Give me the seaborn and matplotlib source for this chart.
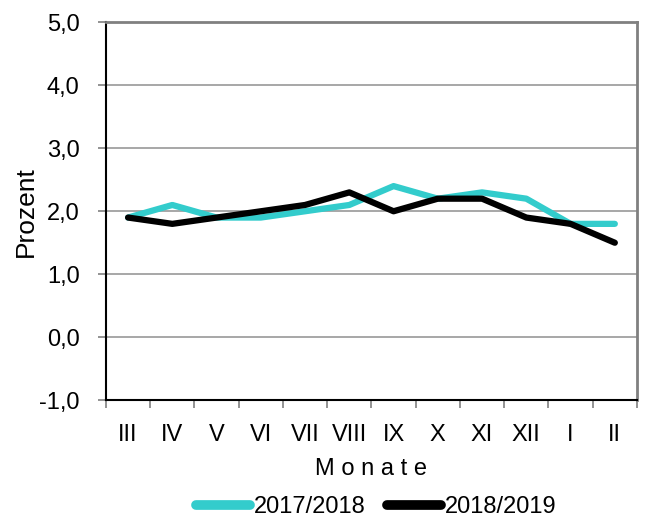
import matplotlib
matplotlib.use("Agg")
import matplotlib.pyplot as plt
import seaborn as sns
import pandas as pd
import numpy as np
from matplotlib.ticker import FixedLocator, FuncFormatter
from matplotlib import font_manager

months = ["III", "IV", "V", "VI", "VII", "VIII", "IX", "X", "XI", "XII", "I", "II"]
series_2017_2018 = [1.9, 2.1, 1.9, 1.9, 2.0, 2.1, 2.4, 2.2, 2.3, 2.2, 1.8, 1.8]
series_2018_2019 = [1.9, 1.8, 1.9, 2.0, 2.1, 2.3, 2.0, 2.2, 2.2, 1.9, 1.8, 1.5]
series_names = ["2017/2018", "2018/2019"]
colors = ["#33CCCC", "#000000"]
y_ticks = [-1.0, 0.0, 1.0, 2.0, 3.0, 4.0, 5.0]

sns.set_theme(style="white")
avail = {f.name for f in font_manager.fontManager.ttflist}
fam = [f for f in ["Liberation Sans Narrow", "Arial Narrow", "Liberation Sans", "DejaVu Sans"] if f in avail]
plt.rcParams["font.family"] = fam + ["DejaVu Sans"]
plt.rcParams["font.stretch"] = "condensed"
plt.rcParams["text.color"] = "black"
plt.rcParams["axes.labelcolor"] = "black"
plt.rcParams["xtick.color"] = "black"
plt.rcParams["ytick.color"] = "black"

df = pd.DataFrame({
    "Monat": months * 2,
    "pos": list(range(len(months))) * 2,
    "Wert": series_2017_2018 + series_2018_2019,
    "Serie": [series_names[0]] * len(months) + [series_names[1]] * len(months),
})

fig = plt.figure(figsize=(6.46, 5.21), dpi=100)
ax = fig.add_axes([0.164, 0.232, 0.822, 0.725])

sns.lineplot(data=df, x="pos", y="Wert", hue="Serie", palette=colors,
             linewidth=4.5, ax=ax, sort=False, legend=True)

ax.set_xlim(-0.5, len(months) - 0.5)
ax.set_ylim(-1, 5)
ax.yaxis.set_major_locator(FixedLocator(y_ticks))
ax.yaxis.set_major_formatter(FuncFormatter(lambda v, p: f"{v:.1f}".replace(".", ",")))
ax.grid(axis="y", color="#A0A0A0", linewidth=1.3)
ax.set_axisbelow(True)

ax.set_xticks(range(len(months)))
ax.set_xticklabels(months)
ax.set_xticks(np.arange(-0.5, len(months), 1), minor=True)
ax.tick_params(axis="x", which="major", length=0, labelsize=17, pad=17)
ax.tick_params(axis="x", which="minor", length=6, color="#808080", width=1.2, direction="out", bottom=True)
ax.tick_params(axis="y", which="major", length=6, color="#808080", width=1.2, direction="out", left=True, labelsize=17, pad=13)

for side in ["left", "bottom"]:
    ax.spines[side].set_color("black")
    ax.spines[side].set_linewidth(1.5)
for side in ["top", "right"]:
    ax.spines[side].set_color("#808080")
    ax.spines[side].set_linewidth(2)

ax.set_xlabel("M o n a t e", fontsize=17, labelpad=9)
ax.set_ylabel("Prozent", fontsize=19, labelpad=1)

handles, labels = ax.get_legend_handles_labels()
ax.get_legend().remove()
leg = fig.legend(handles, labels, loc="center", bbox_to_anchor=(0.582, 0.027), ncol=2, frameon=False,
                 fontsize=17, handlelength=2.3, handletextpad=0.15, columnspacing=0.9)
for line in leg.get_lines():
    line.set_linewidth(7)
    line.set_solid_capstyle("round")

fig.savefig("out.png", dpi=100)
